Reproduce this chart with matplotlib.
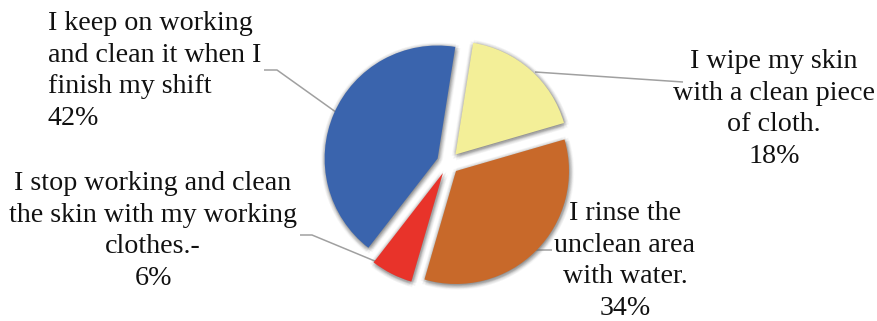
import matplotlib
matplotlib.use("Agg")
import matplotlib.pyplot as plt
import matplotlib.patheffects as pe
import numpy as np

# Survey answers, in clockwise order from the top
labels = [
    "I wipe my skin\nwith a clean piece\nof cloth.",
    "I rinse the\nunclean area\nwith water.",
    "I stop working and clean\nthe skin with my working\nclothes.-",
    "I keep on working\nand clean it when I\nfinish my shift",
]
shares = [18, 34, 6, 42]
colors = ["#F3EF98", "#C8692A", "#E8332A", "#3A64AD"]

W, H = 877, 321
fig = plt.figure(figsize=(W / 100, H / 100), dpi=100)
ax = fig.add_axes([0, 0, 1, 1])

def py(y):
    """Convert a top-down pixel row into the axes' bottom-up coordinate."""
    return H - y

center = (448, py(163))
radius = 113

# Soft shadow: rings of faint offset copies behind each wedge
shadow = []
for r in (0.8, 1.6, 2.4, 3.2):
    for a in np.linspace(0, 2 * np.pi, 8, endpoint=False):
        shadow.append(pe.SimplePatchShadow(offset=(r * np.cos(a) + 0.5, r * np.sin(a) - 1.0),
                                           shadow_rgbFace="#707070", alpha=0.05))
shadow.append(pe.Normal())

wedges, _ = ax.pie(shares, colors=colors, startangle=81, counterclock=False,
                   explode=[0.1 * radius] * len(shares), center=center, radius=radius,
                   wedgeprops=dict(linewidth=0))
for w in wedges:
    w.set_path_effects(shadow)
    w.set_zorder(2)

ax.set_xlim(0, W)
ax.set_ylim(0, H)
ax.set_aspect("equal")
ax.axis("off")

font = dict(family="Liberation Serif", fontsize=20.2, color="#111111", linespacing=1.34)

# Category labels with their percentages
ax.text(48, py(71), f"{labels[3]}\n{shares[3]}%", ha="left", va="center", **font)
ax.text(153, py(231), f"{labels[2]}\n{shares[2]}%", ha="center", va="center", multialignment="center", **font)
ax.text(774, py(109), f"{labels[0]}\n{shares[0]}%", ha="center", va="center", multialignment="center", **font)
ax.text(625, py(261), f"{labels[1]}\n{shares[1]}%", ha="center", va="center", multialignment="center", **font)

# Leader lines from labels to their wedges (drawn beneath the wedges)
line = dict(color="#A0A0A0", linewidth=1.1, solid_capstyle="butt", zorder=1)
ax.plot([264, 277, 340], [py(70), py(70), py(115)], **line)
ax.plot([300, 312, 382], [py(235), py(235), py(264)], **line)
ax.plot([535, 683], [py(72), py(82)], **line)
ax.plot([535, 552], [py(250), py(250)], **line)

fig.savefig("out.png", dpi=100)
